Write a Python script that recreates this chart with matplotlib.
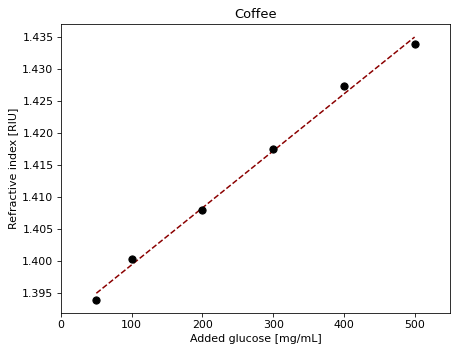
import numpy as np
import matplotlib
matplotlib.use('Agg')
import matplotlib.pyplot as plt

# Added glucose vs refractive index (coffee)
glucose = np.array([50, 100, 200, 300, 400, 500])
ri = np.array([1.3940, 1.4004, 1.4080, 1.4175, 1.4273, 1.4338])

# Linear fit
slope, intercept = np.polyfit(glucose, ri, 1)
fit_y = slope * glucose + intercept

plt.rcParams['font.size'] = 11

fig = plt.figure(figsize=(462 / 72, 354 / 72), dpi=72)
ax = fig.add_axes([0.132, 0.116, 0.842, 0.816])

ax.scatter(glucose, ri, color='black', s=52, zorder=3)
ax.plot(glucose, fit_y, color='#8B0000', linestyle='--', linewidth=1.5)

ax.set_xlim(0, 550)
ax.set_ylim(1.39196, 1.43695)
ax.set_xticks([0, 100, 200, 300, 400, 500])
ax.set_yticks([1.395, 1.400, 1.405, 1.410, 1.415, 1.420, 1.425, 1.430, 1.435])
ax.tick_params(length=4)
ax.set_title("Coffee", fontsize=13)
ax.set_xlabel("Added glucose [mg/mL]")
ax.set_ylabel("Refractive index [RIU]")

plt.savefig('out.png', dpi=72)
